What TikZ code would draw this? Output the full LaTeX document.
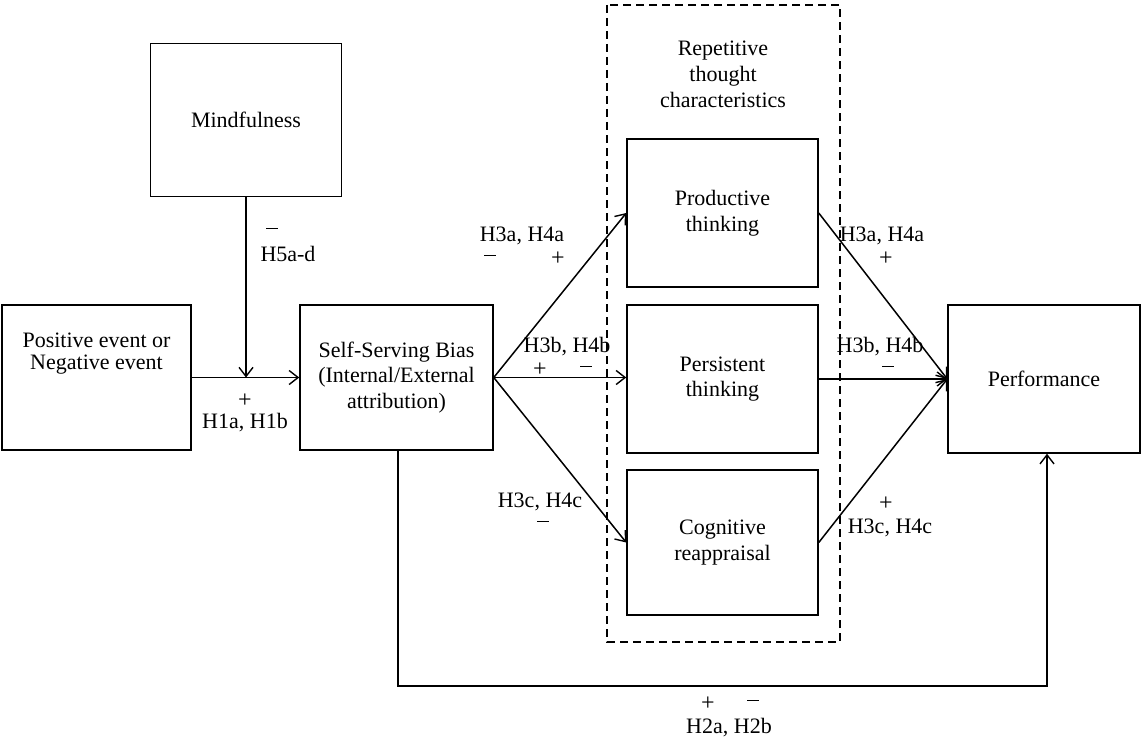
\documentclass[tikz,border=0pt]{standalone}
\usepackage{fontspec}
\setmainfont{Liberation Serif}
\usetikzlibrary{arrows.meta}
\newcommand{\mns}{\raisebox{0.3em}{\rule{12pt}{1.1pt}}}
\newcommand{\pls}{\raisebox{-0.05em}{\fontsize{24}{24}\selectfont +}}
\begin{document}
\begin{tikzpicture}[x=1pt,y=-1pt,
  every node/.style={font=\fontsize{22}{25.5}\selectfont, inner sep=0pt},
  box/.style={draw, line width=1.5pt, minimum width=191pt, align=center},
  conn/.style={line width=1.5pt, -{Straight Barb[length=9pt,width=14pt,line width=1.4pt]}},
  lab/.style={font=\fontsize{22}{22}\selectfont, align=center}
]
\useasboundingbox (0,0) rectangle (1142,741);

% frame around the repetitive thought characteristics
\draw[line width=1.5pt, dash pattern=on 8pt off 5pt] (607,5) rectangle (840,642);
\node[lab, align=center] (rtc) at (723,74) {Repetitive\\[4pt]thought\\[4pt]characteristics};

% boxes
\node[box, minimum height=153pt] (mind) at (246,120) {Mindfulness};
\node[box, minimum width=189pt, minimum height=145pt] (event) at (96.5,377.5) {};
\node[lab, align=center] (eventtxt) at (96.5,354) {Positive event or\\Negative event};
\node[box, minimum width=193pt, minimum height=145pt] (ssb) at (396.5,377.5) {Self-Serving Bias\\(Internal/External\\attribution)};
\node[box, minimum height=148pt] (prod) at (722.5,213) {Productive\\thinking};
\node[box, minimum height=148pt] (pers) at (722.5,379) {Persistent\\thinking};
\node[box, minimum height=145pt] (cogn) at (722.5,542.5) {Cognitive\\reappraisal};
\node[box, minimum width=192pt, minimum height=148pt] (perf) at (1044,379) {Performance};

% event -> bias, moderated by mindfulness
\coordinate (mod) at (mind.south |- event.east);
\draw[conn] (event.east) -- (ssb.west);
\draw[conn] (mind.south) -- (mod);
\node[lab] (m5) at (272,232) {\mns};
\node[lab] (h5) at (288,254) {H5a-d};
\node[lab] (p1) at (245,401) {\pls};
\node[lab] (h1) at (245,423) {H1a, H1b};

% bias -> repetitive thought
\draw[conn] (ssb.east) -- (prod.west);
\draw[conn] (ssb.east) -- (ssb.east -| pers.west);
\draw[conn] (ssb.east) -- (cogn.west);
\node[lab] (h3a) at (522,236) {H3a, H4a};
\node[lab] (h3am) at (490,259) {\mns};
\node[lab] (h3ap) at (558,259) {\pls};
\node[lab] (h3b) at (567,347) {H3b, H4b};
\node[lab] (h3bp) at (540,370) {\pls};
\node[lab] (h3bm) at (586,370) {\mns};
\node[lab] (h3c) at (540,502) {H3c, H4c};
\node[lab] (h3cm) at (543,525) {\mns};

% repetitive thought -> performance
\draw[conn] (prod.east) -- (perf.west);
\draw[conn] (pers.east) -- (perf.west);
\draw[conn] (cogn.east) -- (perf.west);
\node[lab] (r3a) at (882,236) {H3a, H4a};
\node[lab] (r3ap) at (886,259) {\pls};
\node[lab] (r3b) at (880,347) {H3b, H4b};
\node[lab] (r3bm) at (888,370) {\mns};
\node[lab] (r3cp) at (886,504) {\pls};
\node[lab] (r3c) at (890,528) {H3c, H4c};

% direct path bias -> performance
\coordinate (d1) at (398,686);
\coordinate (d2) at (1047,686);
\draw[conn] (ssb.south -| d1) -- (d1) -- (d2) -- (perf.south -| d2);
\node[lab] (p2) at (708,704) {\pls};
\node[lab] (m2) at (753,704) {\mns};
\node[lab] (h2) at (729,728) {H2a, H2b};
\end{tikzpicture}
\end{document}
